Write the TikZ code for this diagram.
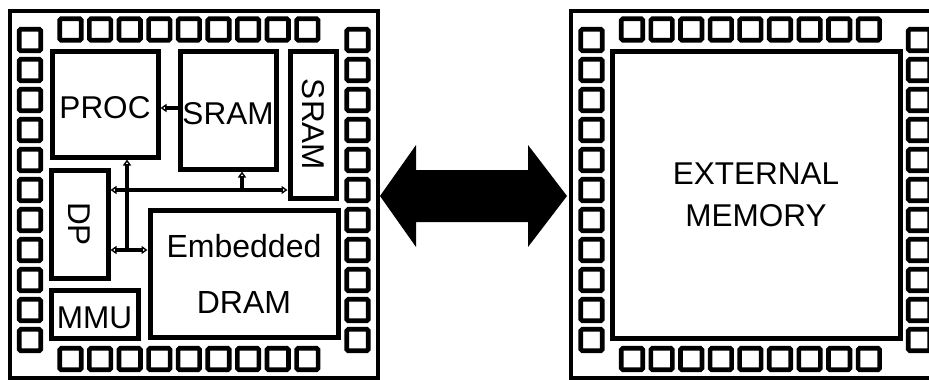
\documentclass[tikz,border=0pt]{standalone}
\usepackage{fontspec}
\setmainfont{Liberation Sans}
\usepackage{graphicx}
\usetikzlibrary{arrows.meta}

\tikzset{
  block/.style={draw, line width=5pt, inner sep=0pt, align=center,
    font=\fontsize{31.5pt}{40pt}\selectfont},
  oneline/.style={text height=28pt, text depth=0pt},
  pad/.style={line width=4.6pt, rounded corners=1.5pt},
  bus/.style={line width=4pt,
    >={Triangle[open,length=6pt,width=8pt,line width'=1.4pt]}},
}

\begin{document}
\begin{tikzpicture}[x=1pt,y=-1pt]
\useasboundingbox (0,0) rectangle (929,380);
\clip (0,0) rectangle (929,380);

% the two packages and their pins
\foreach \ox in {9.5,571}{
  \draw[line width=4pt] (\ox,11) rectangle ++(368,367);
  \foreach \k in {0,...,10}{
    \draw[pad] (\ox+9.75,29.25+30*\k) rectangle ++(21.5,21.5);
    \draw[pad] (\ox+337.25,29.25+30*\k) rectangle ++(21.5,21.5);
  }
  \foreach \k in {0,...,8}{
    \draw[pad] (\ox+50.25+29.6*\k,18.75) rectangle ++(21.5,21.5);
    \draw[pad] (\ox+50.25+29.6*\k,348.25) rectangle ++(21.5,21.5);
  }
}

% on-chip blocks
\node[block, oneline, minimum width=106pt, minimum height=106pt] (proc) at (105,104) {PROC};
\node[block, oneline, minimum width=96pt, minimum height=118pt] (sram) at (228,110) {SRAM};
\node[block, minimum width=46pt, minimum height=147pt] (sramv) at (313,124.5) {\rotatebox{-90}{SRAM}};
\node[block, minimum width=57pt, minimum height=108pt] (dp) at (79.5,224) {\rotatebox{-90}{DP}};
\node[block, oneline, minimum width=87pt, minimum height=48pt] (mmu) at (94.5,314) {MMU};
\node[block, minimum width=188pt, minimum height=127pt,
  font=\fontsize{32pt}{56pt}\selectfont] (dram) at (244,273.5) {Embedded\\DRAM};

% off-chip memory
\node[block, minimum width=288pt, minimum height=287pt,
  font=\fontsize{31.5pt}{42pt}\selectfont] (ext) at (756,194.5) {EXTERNAL\\MEMORY};

% internal buses
\coordinate (ps) at (0,108);
\coordinate (hb) at (127,190);
\coordinate (lb) at (127,250);
\coordinate (tap) at (242,190);
\draw[bus,->] (sram.west |- ps) -- (proc.east |- ps);
\draw[bus,->] (lb) -- (lb |- proc.south);
\draw[bus,<->] (dp.east |- hb) -- (sramv.west |- hb);
\draw[bus,<->] (dp.east |- lb) -- (dram.west |- lb);
\draw[bus,->] (tap) -- (tap |- sram.south);

% link between the chips
\fill (380,196) -- (416,145) -- (416,170) -- (528,170) -- (528,145) -- (567,196)
  -- (528,247) -- (528,222) -- (416,222) -- (416,247) -- cycle;
\end{tikzpicture}
\end{document}
